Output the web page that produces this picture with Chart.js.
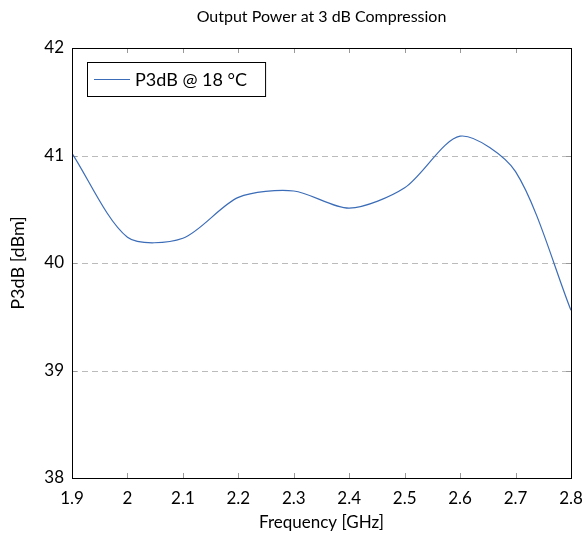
<!DOCTYPE html>
<html>
<head>
<meta charset="utf-8">
<script src="https://cdn.jsdelivr.net/npm/chart.js@4.4.0/dist/chart.umd.min.js"></script>
<style>
  body { margin: 0; background: #fff; }
  #wrap { width: 585px; height: 542px; }
</style>
</head>
<body>
<div id="wrap"><canvas id="p3dbChart" width="585" height="542"></canvas></div>
<script>
// frequency in GHz and P3dB in dBm
var freqs = [1.9, 2.0, 2.1, 2.2, 2.3, 2.4, 2.5, 2.6, 2.7, 2.8];
var p3db = [41.02, 40.24, 40.23, 40.61, 40.67, 40.51, 40.70, 41.18, 40.85, 39.56];
var xTicks = [1.9, 2.0, 2.1, 2.2, 2.3, 2.4, 2.5, 2.6, 2.7, 2.8];
var yTicks = [38, 39, 40, 41, 42];
var seriesName = 'P3dB @ 18 °C';
var lineColor = '#3b6cb7';
var fontName = 'Lato, "DejaVu Sans", sans-serif';

Chart.defaults.color = 'black';
Chart.defaults.font.family = fontName;

var points = freqs.map(function (f, i) { return { x: f, y: p3db[i] }; });

// frame, inward ticks, dashed grid, title and boxed legend
var decorations = {
  id: 'decorations',
  beforeDatasetsDraw: function (chart) {
    var ctx = chart.ctx, a = chart.chartArea;
    var xs = chart.scales.x, ys = chart.scales.y;
    ctx.save();
    ctx.strokeStyle = '#bbbbbb';
    ctx.lineWidth = 1;
    ctx.setLineDash([6, 4]);
    yTicks.forEach(function (v) {
      if (v <= ys.min || v >= ys.max) return;
      var y = Math.round(ys.getPixelForValue(v)) + 0.5;
      ctx.beginPath(); ctx.moveTo(a.left, y); ctx.lineTo(a.right, y); ctx.stroke();
    });
    ctx.setLineDash([]);
    ctx.strokeStyle = '#999999';
    xTicks.forEach(function (v) {
      var x = Math.round(xs.getPixelForValue(v)) + 0.5;
      ctx.beginPath(); ctx.moveTo(x, a.bottom); ctx.lineTo(x, a.bottom - 5); ctx.stroke();
      ctx.beginPath(); ctx.moveTo(x, a.top); ctx.lineTo(x, a.top + 5); ctx.stroke();
    });
    yTicks.forEach(function (v) {
      var y = Math.round(ys.getPixelForValue(v)) + 0.5;
      ctx.beginPath(); ctx.moveTo(a.left, y); ctx.lineTo(a.left + 5, y); ctx.stroke();
      ctx.beginPath(); ctx.moveTo(a.right, y); ctx.lineTo(a.right - 5, y); ctx.stroke();
    });
    ctx.restore();
  },
  afterDatasetsDraw: function (chart) {
    var ctx = chart.ctx, a = chart.chartArea;
    ctx.save();
    ctx.strokeStyle = '#000';
    ctx.lineWidth = 1;
    ctx.strokeRect(Math.round(a.left) + 0.5, Math.round(a.top) + 0.5,
      Math.round(a.right - a.left), Math.round(a.bottom - a.top));
    // title
    ctx.fillStyle = '#000';
    ctx.font = '16px ' + fontName;
    ctx.textAlign = 'center';
    ctx.textBaseline = 'middle';
    ctx.fillText('Output Power at 3 dB Compression', (a.left + a.right) / 2, 17);
    // legend
    var lx = a.left + 15, ly = a.top + 14;
    ctx.font = '18px ' + fontName;
    var w = ctx.measureText(seriesName).width + 66;
    ctx.fillStyle = '#fff';
    ctx.fillRect(lx + 0.5, ly + 0.5, w, 34);
    ctx.strokeRect(lx + 0.5, ly + 0.5, w, 34);
    ctx.strokeStyle = lineColor;
    ctx.lineWidth = 1.2;
    ctx.beginPath(); ctx.moveTo(lx + 7, ly + 17.5); ctx.lineTo(lx + 43, ly + 17.5); ctx.stroke();
    ctx.fillStyle = '#000';
    ctx.textAlign = 'left';
    ctx.fillText(seriesName, lx + 48, ly + 18);
    ctx.restore();
  }
};

var p3dbChart = new Chart(document.getElementById('p3dbChart').getContext('2d'), {
  type: 'line',
  data: {
    datasets: [{
      label: seriesName,
      data: points,
      borderColor: lineColor,
      borderWidth: 1.2,
      pointRadius: 0,
      fill: false,
      tension: 0.28,
      cubicInterpolationMode: 'default'
    }]
  },
  options: {
    responsive: false,
    animation: false,
    layout: { padding: { top: 48, right: 14, left: 0, bottom: 0 } },
    plugins: {
      legend: { display: false },
      title: { display: false },
      tooltip: { enabled: false }
    },
    scales: {
      x: {
        type: 'linear',
        min: 1.9,
        max: 2.8,
        afterBuildTicks: function (s) { s.ticks = xTicks.map(function (v) { return { value: v }; }); },
        afterFit: function (s) { s.height = 64; s.paddingLeft = 0; s.paddingRight = 0; },
        grid: { display: false, drawTicks: false },
        border: { display: false },
        ticks: {
          padding: 10,
          font: { size: 17 },
          maxRotation: 0,
          callback: function (v) { return String(Math.round(v * 10) / 10); }
        },
        title: { display: true, text: 'Frequency [GHz]', font: { size: 17 }, padding: { top: 0, bottom: 9 } }
      },
      y: {
        min: 38,
        max: 42,
        afterBuildTicks: function (s) { s.ticks = yTicks.map(function (v) { return { value: v }; }); },
        afterFit: function (s) { s.width = 72; },
        grid: { display: false, drawTicks: false },
        border: { display: false },
        ticks: { padding: 8, font: { size: 17 } },
        title: { display: true, text: 'P3dB [dBm]', font: { size: 18 }, padding: { top: 7, bottom: 4 } }
      }
    }
  },
  plugins: [decorations]
});
</script>
</body>
</html>
